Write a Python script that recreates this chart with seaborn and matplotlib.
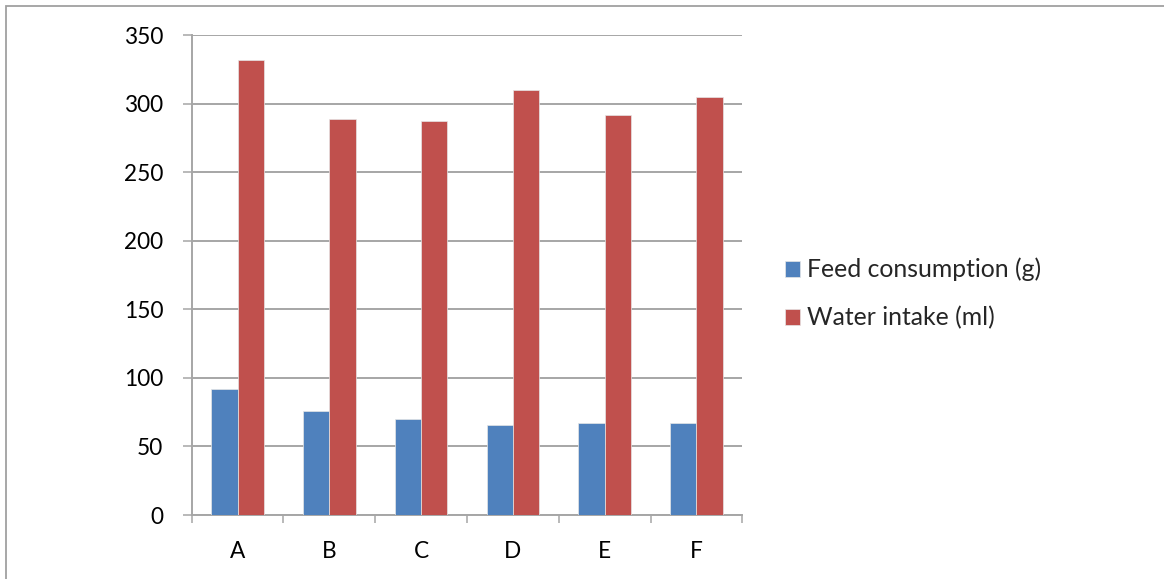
import matplotlib
matplotlib.use("Agg")
import matplotlib.pyplot as plt
import matplotlib.patches as mpatches
import numpy as np
import pandas as pd
import seaborn as sns

# Group labels and the two measured series
groups = ["A", "B", "C", "D", "E", "F"]
feed_consumption = [92, 75.5, 70, 65.6, 67, 67.1]
water_intake = [332, 288.7, 287, 310, 291.5, 305.2]
series_names = ["Feed consumption (g)", "Water intake (ml)"]
y_ticks = [0, 50, 100, 150, 200, 250, 300, 350]

df = pd.DataFrame({
    "group": groups * 2,
    "value": feed_consumption + water_intake,
    "series": [series_names[0]] * len(groups) + [series_names[1]] * len(groups),
})

sns.set_theme(style="white")
plt.rcParams["font.family"] = ["Lato", "DejaVu Sans"]

W, H, DPI = 1164, 579, 100
fig = plt.figure(figsize=(W / DPI, H / DPI), dpi=DPI)
ax = fig.add_axes([191.7 / W, 1 - 515 / H, (742.3 - 191.7) / W, (515 - 35.1) / H])

palette = {series_names[0]: "#4F81BD", series_names[1]: "#C0504D"}
sns.barplot(data=df, x="group", y="value", hue="series", order=groups,
            hue_order=series_names, palette=palette, width=0.572, gap=0,
            saturation=1, edgecolor="#E6E6E6", linewidth=0.5, ax=ax,
            legend=True, zorder=3)

grey = "#A6A6A6"
ax.set_ylim(0, 350)
ax.set_xlim(-0.5, len(groups) - 0.5)
ax.set_yticks(y_ticks)
ax.yaxis.grid(True, color=grey, linewidth=1.4, zorder=0)
ax.set_axisbelow(True)
ax.set_xlabel("")
ax.set_ylabel("")

for side in ["top", "right"]:
    ax.spines[side].set_visible(False)
for side in ["left", "bottom"]:
    ax.spines[side].set_color(grey)
    ax.spines[side].set_linewidth(1.4)

fs = 16.3
ax.tick_params(axis="y", which="major", left=True, length=6.5, width=1.1,
               color=grey, labelsize=fs, pad=14, labelcolor="black")
ax.tick_params(axis="x", which="major", bottom=False, labelsize=fs, pad=13,
               labelcolor="black")
ax.set_xticks(np.arange(-0.5, len(groups)), minor=True)
ax.tick_params(axis="x", which="minor", bottom=True, length=6, width=1.1,
               color=grey)

handles, labels = ax.get_legend_handles_labels()
ax.get_legend().remove()
fig.legend(handles, labels, loc="center left",
           bbox_to_anchor=(785 / W, 1 - 293.7 / H), frameon=False,
           fontsize=17.8, handlelength=0.6, handleheight=0.6,
           handletextpad=0.3, labelspacing=1.0, borderpad=0,
           borderaxespad=0)

# Outer frame around the chart area
fig.add_artist(mpatches.Rectangle((6 / W, -0.1), 1.2, 1 - 6 / H + 0.1,
                                  transform=fig.transFigure, fill=False,
                                  edgecolor="#A0A0A0", linewidth=1.3))

fig.savefig("out.png", dpi=DPI)
